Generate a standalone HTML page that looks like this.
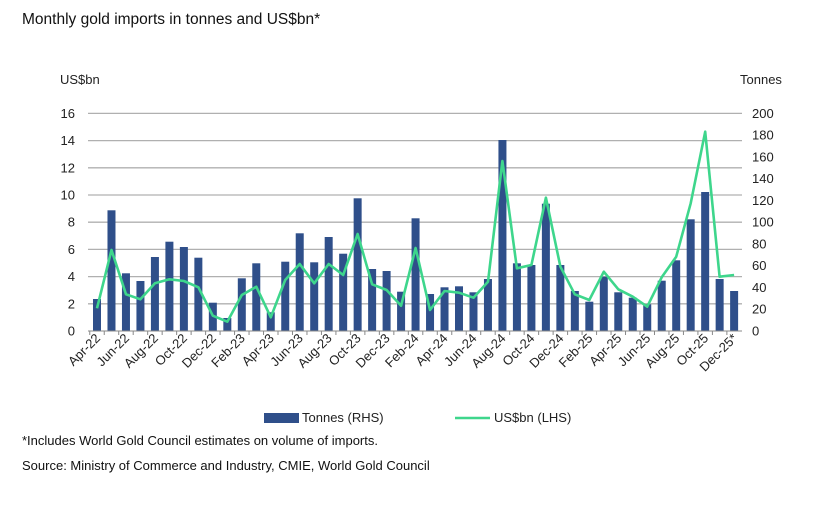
<!DOCTYPE html>
<html><head><meta charset="utf-8"><style>
body{margin:0;background:#fff;font-family:"Liberation Sans",sans-serif}
</style></head><body>
<svg width="833" height="515" xmlns="http://www.w3.org/2000/svg" font-family="Liberation Sans, sans-serif">
<rect width="833" height="515" fill="#fff"/>
<text x="22" y="24" font-size="15.5" fill="#111">Monthly gold imports in tonnes and US$bn*</text>
<text x="60" y="84" font-size="13" fill="#222">US$bn</text>
<text x="740" y="84" font-size="13" fill="#222">Tonnes</text>
<g id="grid" stroke="#b0b0b0" stroke-width="1.3"></g>
<g id="ylab" font-size="13" fill="#222"></g>
<g id="bars" fill="#2f4f8a"></g>
<polyline id="line" fill="none" stroke="#3ed68c" stroke-width="2.6" stroke-linejoin="round"/>
<line x1="88" y1="331" x2="742" y2="331" stroke="#888" stroke-width="1"/>
<g id="ticks" stroke="#888" stroke-width="1"></g>
<g id="xlab" font-size="13" fill="#222"></g>
<rect x="264" y="413" width="35" height="10" fill="#2f4f8a"/>
<text x="302" y="422" font-size="13" fill="#222">Tonnes (RHS)</text>
<line x1="455" y1="418" x2="490" y2="418" stroke="#3ed68c" stroke-width="2.6"/>
<text x="494" y="422" font-size="13" fill="#222">US$bn (LHS)</text>
<text x="22" y="445" font-size="13" fill="#111">*Includes World Gold Council estimates on volume of imports.</text>
<text x="22" y="470" font-size="13" fill="#111">Source: Ministry of Commerce and Industry, CMIE, World Gold Council</text>
</svg>
<script>
var NS="http://www.w3.org/2000/svg";
function el(p,t,a,txt){var e=document.createElementNS(NS,t);for(var k in a)e.setAttribute(k,a[k]);if(txt!=null)e.textContent=txt;document.getElementById(p).appendChild(e);return e;}
for(var i=0;i<=8;i++){var y=331-i*27.2;
 if(i>0)el("grid","line",{x1:88,x2:742,y1:y,y2:y});
 el("ylab","text",{x:75,y:y+4.5,"text-anchor":"end"},String(i*2));}
for(var j=0;j<=10;j++){var y2=331-j*21.76;
 el("ylab","text",{x:752,y:y2+4.5},String(j*20));}
var bars=[299,210.3,273.3,281,257,241.7,247,257.7,302.7,318,278.3,263.3,312.3,261.7,233.3,262.3,237,253.7,198.3,269,271,291.7,218.3,294,287.3,286.3,292.3,279,140,263.3,265,203.7,265,291,301.7,276.7,292.3,297.7,304.3,280.7,260.3,219.3,192,279,291];
var ln=[308.3,250,294.3,299.3,283.3,279.3,281,287.3,315.7,321.7,295,286.7,317.3,280,264,283.3,264,275,234,284.3,290,305.7,248,310,291,292.7,297.7,281.7,161,268.3,265,197.7,266.7,294.3,300,271.7,289.3,296.7,306.7,277.3,256.7,203.3,131.7,276.7,275];
var m=["Apr","May","Jun","Jul","Aug","Sep","Oct","Nov","Dec","Jan","Feb","Mar"];
var pts=[];
for(var i=0;i<45;i++){var cx=97+i*14.48;
 el("bars","rect",{x:cx-4,y:bars[i],width:8,height:331-bars[i]});
 pts.push(cx.toFixed(1)+","+ln[i]);
 el("ticks","line",{x1:cx-7.24,x2:cx-7.24,y1:331,y2:335});
 if(i%2==0){var yr=22+Math.floor((i+3)/12);var lab=m[i%12]+"-"+yr+(i==44?"*":"");
  el("xlab","text",{x:cx+4,y:339,"text-anchor":"end",transform:"rotate(-45 "+(cx+4)+" 339)"},lab);}}
document.getElementById("line").setAttribute("points",pts.join(" "));
</script>
</body></html>
